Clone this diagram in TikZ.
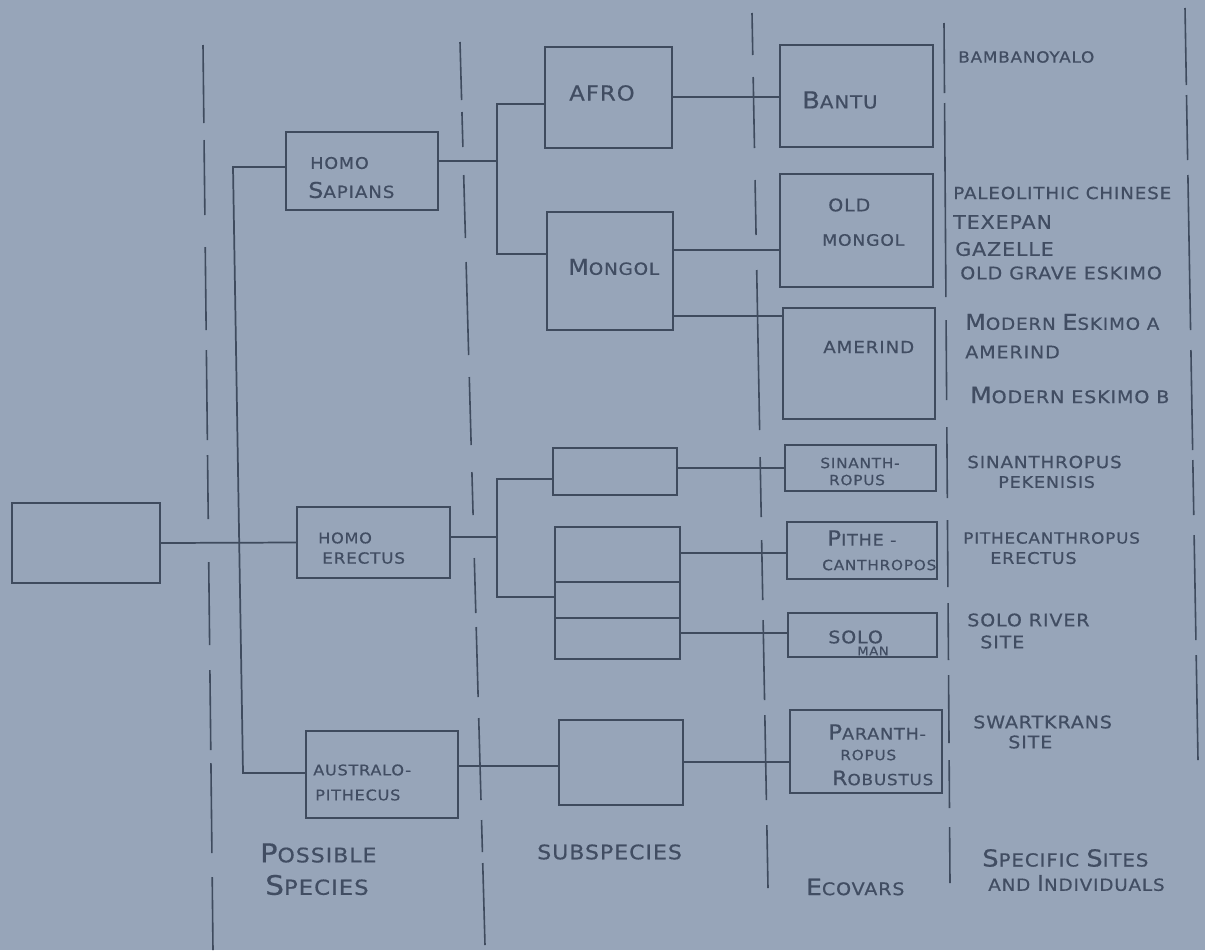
\documentclass[tikz,border=0pt]{standalone}
\usepackage{fontspec}
\newfontfamily\hand{DejaVu Sans}[FakeStretch=1.1,LetterSpace=5,FakeBold=0.6]
\usetikzlibrary{fit}
\definecolor{paper}{HTML}{97A5B9}
\definecolor{ink}{HTML}{3F4B5E}
\definecolor{pen}{HTML}{414D62}
\newcommand\bigini[1]{\scalebox{1.3}{#1}}
\newcommand\divline[5]{\foreach \a/\b in {#5}{\draw[divider] ({#1+(#3-#1)/(#4-#2)*(\a-#2)},\a) -- ({#1+(#3-#1)/(#4-#2)*(\b-#2)},\b);}}
\begin{document}
\begin{tikzpicture}[x=0.75pt,y=-0.75pt,
  box/.style={draw=ink,line width=1.3pt,inner sep=0pt},
  wire/.style={draw=ink,line width=1.3pt},
  divider/.style={draw=ink,line width=1.2pt},
  txt/.style={inner sep=0pt,anchor=west,text=pen,font=\hand\fontsize{#1}{#1}\selectfont},
  ctxt/.style={inner sep=0pt,anchor=center,text=pen,font=\hand\fontsize{#1}{#1}\selectfont}]
\fill[paper] (0,0) rectangle (1205,950);
\useasboundingbox (0,0) rectangle (1205,950);

% column dividers
\divline{203}{45}{213}{950}{45/123,140/215,247/330,350/440,455/519,562/645,670/750,763/853,877/950}
\divline{460}{42}{485}{945}{42/100,112/147,175/238,262/355,377/445,472/515,558/613,627/697,718/800,820/852,863/945}
\divline{752}{13}{768}{888}{13/55,77/148,180/235,270/430,457/517,540/600,620/700,715/800,825/888}
\divline{944}{23}{950}{883}{23/93,103/297,320/400,427/498,520/587,603/660,675/743,760/808,827/883}
\divline{1185}{8}{1198}{760}{8/85,95/160,175/330,350/450,460/515,535/640,655/760}

% boxes
\node[box, fit={(12,503) (160,583)}] (root) {};
\node[box, fit={(286,132) (438,210)}] (hs) {};
\node[box, fit={(297,507) (450,578)}] (he) {};
\node[box, fit={(306,731) (458,818)}] (au) {};
\node[box, fit={(545,47) (672,148)}] (afro) {};
\node[box, fit={(547,212) (673,330)}] (mongol) {};
\node[box, fit={(553,448) (677,495)}] (sub1) {};
\node[box, fit={(555,527) (680,659)}] (tri) {};
\node[box, fit={(559,720) (683,805)}] (sub3) {};
\node[box, fit={(780,45) (933,147)}] (bantu) {};
\node[box, fit={(780,174) (933,287)}] (oldm) {};
\node[box, fit={(783,308) (935,419)}] (amer) {};
\node[box, fit={(785,445) (936,491)}] (sinan) {};
\node[box, fit={(787,522) (937,579)}] (pithe) {};
\node[box, fit={(788,613) (937,657)}] (solo) {};
\node[box, fit={(790,710) (942,793)}] (paran) {};
\draw[wire] (tri.west |- 0,582) -- (tri.east |- 0,582);
\draw[wire] (tri.west |- 0,618) -- (tri.east |- 0,618);

% connectors
\coordinate (tTop) at (233,167);
\coordinate (tBot) at (243,773);
\draw[wire] (hs.west |- tTop) -- (tTop) -- (tBot) -- (au.west |- tBot);
\draw[wire] (root.east) -- (he.west);
\coordinate (jA) at (497,104);
\coordinate (jH) at (497,161);
\coordinate (jM) at (497,254);
\draw[wire] (hs.east |- jH) -- (jH);
\draw[wire] (afro.west |- jA) -- (jA) -- (jM) -- (mongol.west |- jM);
\coordinate (kA) at (0,97);
\coordinate (kB) at (0,250);
\coordinate (kC) at (0,316);
\draw[wire] (afro.east |- kA) -- (bantu.west |- kA);
\draw[wire] (mongol.east |- kB) -- (oldm.west |- kB);
\draw[wire] (mongol.east |- kC) -- (amer.west |- kC);
\coordinate (jS) at (497,479);
\coordinate (jE) at (497,537);
\coordinate (jT) at (497,597);
\draw[wire] (he.east |- jE) -- (jE);
\draw[wire] (sub1.west |- jS) -- (jS) -- (jT) -- (tri.west |- jT);
\coordinate (kD) at (0,468);
\coordinate (kE) at (0,553);
\coordinate (kF) at (0,633);
\coordinate (kG) at (0,766);
\coordinate (kH) at (0,762);
\draw[wire] (sub1.east |- kD) -- (sinan.west |- kD);
\draw[wire] (tri.east |- kE) -- (pithe.west |- kE);
\draw[wire] (tri.east |- kF) -- (solo.west |- kF);
\draw[wire] (au.east |- kG) -- (sub3.west |- kG);
\draw[wire] (sub3.east |- kH) -- (paran.west |- kH);

% box texts
\node[txt=15.5] (t-afro) at (569,93) {AFRO};
\node[txt=13.5] (t-bantu) at (802,100) {\bigini{B}ANTU};
\node[txt=12] (t-hs1) at (310,163) {HOMO};
\node[txt=12.5] (t-hs2) at (308,190) {\bigini{S}APIANS};
\node[txt=12.5] (t-mongol) at (568,267) {\bigini{M}ONGOL};
\node[txt=13] (t-om1) at (828,205) {OLD};
\node[txt=11.8] (t-om2) at (822,240) {MONGOL};
\node[txt=12.5] (t-amer) at (823,347) {AMERIND};
\node[txt=11] (t-he1) at (318,538) {HOMO};
\node[txt=11.5] (t-he2) at (322,558) {ERECTUS};
\node[txt=11] (t-au1) at (313,770) {AUSTRALO-};
\node[txt=11] (t-au2) at (315,795) {PITHECUS};
\node[ctxt=10.5] (t-si1) at (860,463) {SINANTH-};
\node[ctxt=10.5] (t-si2) at (857,480) {ROPUS};
\node[txt=12] (t-pi1) at (827,538) {\bigini{P}ITHE -};
\node[txt=10.5] (t-pi2) at (822,565) {CANTHROPOS};
\node[txt=13] (t-so1) at (828,637) {SOLO};
\node[txt=9] (t-so2) at (857,651) {MAN};
\node[txt=12] (t-pa1) at (828,732) {\bigini{P}ARANTH-};
\node[txt=10.5] (t-pa2) at (840,755) {ROPUS};
\node[txt=11.5] (t-pa3) at (832,778) {\bigini{R}OBUSTUS};

% sites column
\node[txt=11.5] (s1) at (958,57) {BAMBANOYALO};
\node[txt=12.5] (s2) at (953,193) {PALEOLITHIC CHINESE};
\node[txt=14] (s3) at (953,222) {TEXEPAN};
\node[txt=14] (s4) at (955,249) {GAZELLE};
\node[txt=13] (s5) at (960,273) {OLD GRAVE ESKIMO};
\node[txt=12.5] (s6) at (965,322) {\bigini{M}ODERN \bigini{E}SKIMO A};
\node[txt=13] (s7) at (965,352) {AMERIND};
\node[txt=13] (s8) at (970,395) {\bigini{M}ODERN ESKIMO B};
\node[txt=12.5] (s9) at (967,462) {SINANTHROPUS};
\node[txt=12] (s10) at (998,482) {PEKENISIS};
\node[txt=11.5] (s11) at (963,538) {PITHECANTHROPUS};
\node[txt=12] (s12) at (990,558) {ERECTUS};
\node[txt=13] (s13) at (967,620) {SOLO RIVER};
\node[txt=13] (s14) at (980,642) {SITE};
\node[txt=13] (s15) at (973,722) {SWARTKRANS};
\node[txt=13] (s16) at (1008,742) {SITE};

% column headings
\node[txt=15] (h1a) at (260,853) {\bigini{P}OSSIBLE};
\node[txt=15.5] (h1b) at (265,885) {\bigini{S}PECIES};
\node[txt=15] (h2) at (537,852) {SUBSPECIES};
\node[txt=13] (h3) at (806,887) {\bigini{E}COVARS};
\node[txt=13.5] (h4a) at (982,858) {\bigini{S}PECIFIC \bigini{S}ITES};
\node[txt=12.5] (h4b) at (988,883) {AND \bigini{I}NDIVIDUALS};
\end{tikzpicture}
\end{document}
